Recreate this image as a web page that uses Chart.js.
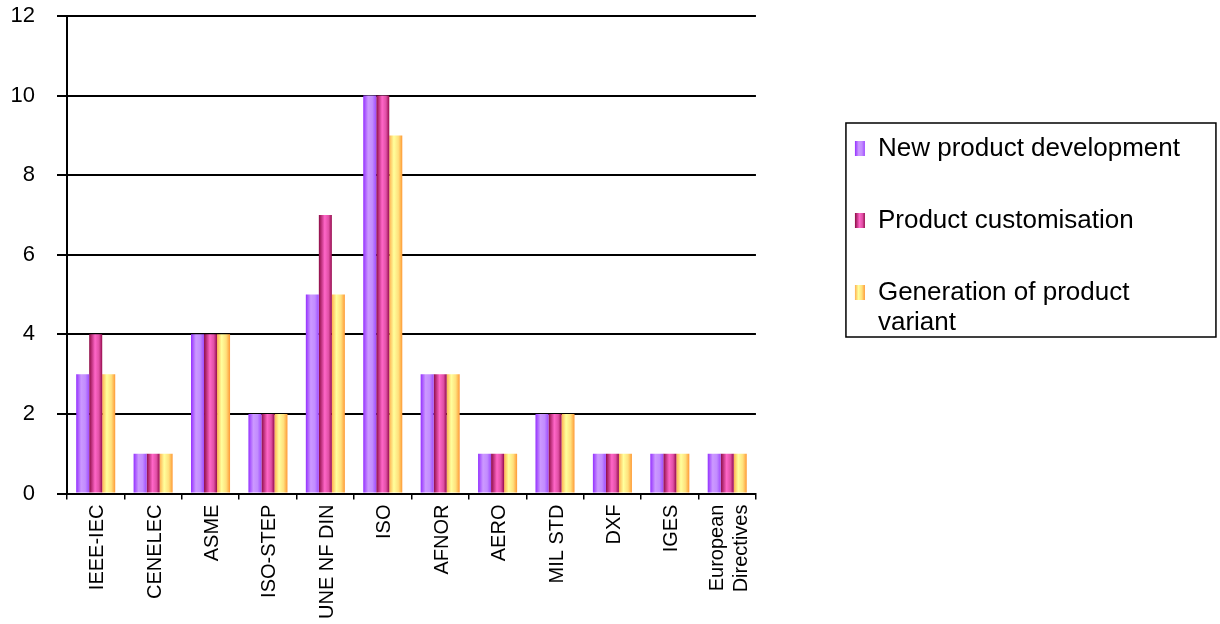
<!DOCTYPE html>
<html>
<head>
<meta charset="utf-8">
<script src="https://cdn.jsdelivr.net/npm/chart.js@4/dist/chart.umd.min.js"></script>
<style>
  html, body { margin: 0; padding: 0; background: #ffffff; }
  #wrap { width: 1220px; height: 624px; position: relative; }
</style>
</head>
<body>
<div id="wrap"><canvas id="c" width="1220" height="624"></canvas></div>
<script>
// ---- data ----
const categories = ['IEEE-IEC', 'CENELEC', 'ASME', 'ISO-STEP', 'UNE NF DIN', 'ISO', 'AFNOR', 'AERO', 'MIL STD', 'DXF', 'IGES', ['European', 'Directives']];
const newProductDevelopment      = [3, 1, 4, 2, 5, 10, 3, 1, 2, 1, 1, 1];
const productCustomisation       = [4, 1, 4, 2, 7, 10, 3, 1, 2, 1, 1, 1];
const generationOfProductVariant = [3, 1, 4, 2, 5,  9, 3, 1, 2, 1, 1, 1];
const seriesLabels = ['New product development', 'Product customisation', 'Generation of product\nvariant'];
const yTicks = [0, 2, 4, 6, 8, 10, 12];

// ---- styles ----
const FONT = "'Liberation Sans', Arial, Helvetica, sans-serif";
const gradStops = [
  [[0, '#9430ff'], [0.38, '#cc99ff'], [0.7, '#c28cff'], [1, '#a04cff']],
  [[0, '#8c0a44'], [0.45, '#ff66c8'], [0.75, '#e050a6'], [1, '#960a4c']],
  [[0, '#ffb050'], [0.35, '#ffff9c'], [0.7, '#ffe07c'], [1, '#ff9a36']]
];
const solidColors = ['#b878ff', '#e0449a', '#ffd070'];

const barGradientPlugin = {
  id: 'barGradient',
  beforeDatasetsDraw(chart) {
    const c = chart.ctx;
    chart.data.datasets.forEach((ds, di) => {
      const meta = chart.getDatasetMeta(di);
      meta.data.forEach(el => {
        const { x, width } = el.getProps(['x', 'width'], true);
        const g = c.createLinearGradient(x - width / 2, 0, x + width / 2, 0);
        gradStops[di].forEach(([o, col]) => g.addColorStop(o, col));
        el.options = Object.assign({}, el.options, { backgroundColor: g });
      });
    });
  }
};

// centre multi-line rotated category labels on their tick
const multiLineLabelPlugin = {
  id: 'multiLineLabel',
  beforeDraw(chart) {
    const items = chart.scales.x.getLabelItems();
    items.forEach(it => {
      if (Array.isArray(it.label) && it.label.length > 1 && !it._centred) {
        it.options.translation[0] -= it.font.lineHeight / 2 * (it.label.length - 1);
        it._centred = true;
      }
    });
  }
};

// legend frame geometry relative to the chart area
const FRAME = { dx: 90, dy: 107, w: 370, h: 214, inX: 9, inY: 12.5 };

const legendFramePlugin = {
  id: 'legendFrame',
  beforeDraw(chart) {
    const lg = chart.legend;
    if (!lg) return;
    const area = chart.chartArea;
    const pad = lg.options.labels.padding;
    const fl = area.right + FRAME.dx, ft = area.top + FRAME.dy;
    lg.left = fl + FRAME.inX - pad;
    lg.right = chart.width;
    lg.width = lg.right - lg.left;
    lg.top = ft + FRAME.inY - pad;
    lg.bottom = lg.top + lg.height;
    const bw = lg.options.labels.boxWidth;
    lg.legendItems.forEach((it, i) => {
      const x0 = fl + FRAME.inX;
      const g = chart.ctx.createLinearGradient(x0, 0, x0 + bw, 0);
      gradStops[i].forEach(([o, col]) => g.addColorStop(o, col));
      it.fillStyle = g;
    });
  },
  afterDraw(chart) {
    const area = chart.chartArea;
    const c = chart.ctx;
    c.save();
    c.strokeStyle = '#000';
    c.lineWidth = 1.5;
    c.strokeRect(area.right + FRAME.dx, area.top + FRAME.dy, FRAME.w, FRAME.h);
    c.restore();
  }
};

const chart = new Chart(document.getElementById('c'), {
  type: 'bar',
  data: {
    labels: categories,
    datasets: [
      { label: seriesLabels[0], data: newProductDevelopment, backgroundColor: solidColors[0] },
      { label: seriesLabels[1], data: productCustomisation, backgroundColor: solidColors[1] },
      { label: seriesLabels[2], data: generationOfProductVariant, backgroundColor: solidColors[2] }
    ]
  },
  options: {
    responsive: false,
    animation: false,
    events: [],
    layout: { padding: { left: 10, top: 16, right: 83, bottom: 0 } },
    datasets: { bar: { categoryPercentage: 0.68, barPercentage: 1, borderWidth: 0 } },
    scales: {
      x: {
        grid: {
          offset: true,
          drawOnChartArea: true,
          color: c => (c.index === categories.length ? '#000' : 'rgba(0,0,0,0)'),
          tickColor: '#000',
          tickLength: 6,
          lineWidth: 1.5
        },
        border: { color: '#000', width: 2 },
        ticks: {
          font: { family: FONT, size: 20 },
          color: '#000',
          maxRotation: 90,
          minRotation: 90,
          autoSkip: false,
          padding: 5,
          labelOffset: 2
        }
      },
      y: {
        min: 0,
        max: 12,
        afterBuildTicks: s => { s.ticks = yTicks.map(v => ({ value: v })); },
        afterFit: s => { s.width = 57; s.paddingTop = 0; s.paddingBottom = 0; },
        ticks: { font: { family: FONT, size: 22 }, color: '#000', padding: 22 },
        grid: { color: '#000', lineWidth: 2, tickLength: 10 },
        border: { color: '#000', width: 2 }
      }
    },
    plugins: {
      legend: {
        position: 'right',
        align: 'start',
        maxWidth: 440,
        labels: {
          boxWidth: 10,
          boxHeight: 15,
          padding: 46,
          color: '#000',
          font: { family: FONT, size: 26, lineHeight: 30 / 26 },
          generateLabels(ch) {
            const items = Chart.defaults.plugins.legend.labels.generateLabels(ch);
            items.forEach(it => {
              if (typeof it.text === 'string' && it.text.includes('\n')) it.text = it.text.split('\n');
              it.lineWidth = 0;
            });
            return items;
          }
        }
      },
      tooltip: { enabled: false }
    }
  },
  plugins: [barGradientPlugin, multiLineLabelPlugin, legendFramePlugin]
});
</script>
</body>
</html>
